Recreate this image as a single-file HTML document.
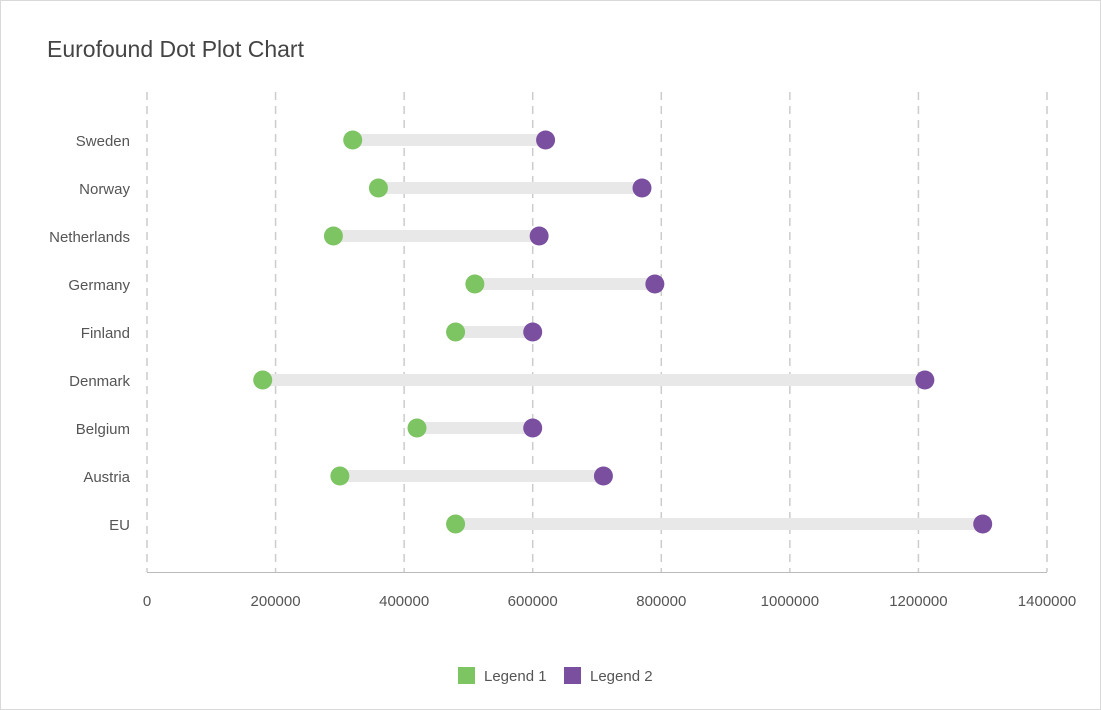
<!DOCTYPE html>
<html><head><meta charset="utf-8"><style>
html,body{margin:0;padding:0;background:#fff}
svg{display:block;font-family:"Liberation Sans",sans-serif}
</style></head><body>
<svg width="1101" height="710" viewBox="0 0 1101 710">
<rect x="0.5" y="0.5" width="1100" height="709" fill="#fff" stroke="#d9d9d9"/>
<text x="47" y="57" font-size="23" fill="#444">Eurofound Dot Plot Chart</text>
<g id="grid"></g><g id="bars"></g><g id="dots"></g><g id="labels"></g>
<line x1="147" y1="572.5" x2="1047" y2="572.5" stroke="#bbb"/>
<g>
<rect x="458" y="667" width="17" height="17" fill="#7dc462"/>
<text x="484" y="681" font-size="15" fill="#555">Legend 1</text>
<rect x="564" y="667" width="17" height="17" fill="#7b4fa0"/>
<text x="590" y="681" font-size="15" fill="#555">Legend 2</text>
</g>
</svg>
<script>
const categories=["Sweden","Norway","Netherlands","Germany","Finland","Denmark","Belgium","Austria","EU"];
const series1=[320000,360000,290000,510000,480000,180000,420000,300000,480000];
const series2=[620000,770000,610000,790000,600000,1210000,600000,710000,1300000];
const ticks=[0,200000,400000,600000,800000,1000000,1200000,1400000];
const NS="http://www.w3.org/2000/svg";
const x=v=>147+v/1400000*900;
const y=i=>140+i*48;
function mk(tag,attrs,parent){const e=document.createElementNS(NS,tag);for(const k in attrs)e.setAttribute(k,attrs[k]);document.getElementById(parent).appendChild(e);return e;}
ticks.forEach((t,i)=>{
 const l=mk('line',{x1:x(t),x2:x(t),y1:92,y2:572,stroke:'#ccc','stroke-width':1.5,'stroke-dasharray':'8,6'},'grid');
 
 
 const tx=mk('text',{x:x(t),y:606,'font-size':15,fill:'#555','text-anchor':'middle'},'labels');
 tx.textContent=t;
 
 
});
categories.forEach((c,i)=>{
 const b=mk('rect',{x:x(series1[i]),y:y(i)-6,width:x(series2[i])-x(series1[i]),height:12,fill:'#e8e8e8'},'bars');
 
 
 const d1=mk('circle',{cx:x(series1[i]),cy:y(i),r:9.5,fill:'#7dc462'},'dots');
 
 
 const d2=mk('circle',{cx:x(series2[i]),cy:y(i),r:9.5,fill:'#7b4fa0'},'dots');
 
 
 const t=mk('text',{x:130,y:y(i)+6,'font-size':15,fill:'#555','text-anchor':'end'},'labels');
 t.textContent=c;
 
 
});
</script>
</body></html>
